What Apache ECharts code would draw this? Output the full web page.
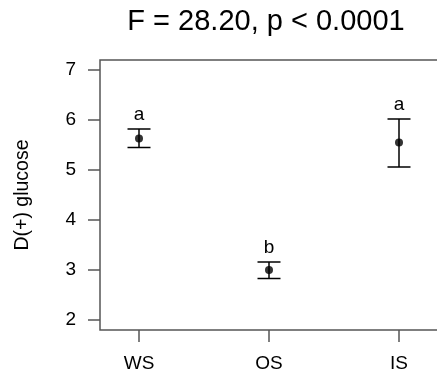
<!DOCTYPE html>
<html>
<head>
<meta charset="utf-8">
<script src="https://cdn.jsdelivr.net/npm/echarts@6/dist/echarts.min.js"></script>
<style>html,body{margin:0;padding:0;background:#fff}#c{width:437px;height:381px}</style>
</head>
<body>
<div id="c"></div>
<script>
const categories = ['WS', 'OS', 'IS'];
const means = [5.63, 3.00, 5.55];
const upper = [5.82, 3.16, 6.02];
const lower = [5.45, 2.83, 5.06];
const letters = ['a', 'b', 'a'];
const yTicks = [2, 3, 4, 5, 6, 7];
const xTicks = [1, 2, 3];
const titleText = 'F = 28.20, p < 0.0001';

const FONT = '"Liberation Sans", Arial, Helvetica, sans-serif';
const chart = echarts.init(document.getElementById('c'), null, {renderer: 'canvas'});

const pointData = means.map((m, i) => [xTicks[i], m]);
const errData = means.map((m, i) => [xTicks[i], lower[i], upper[i]]);

chart.setOption({
  animation: false,
  backgroundColor: '#fff',
  textStyle: {fontFamily: FONT},
  grid: {left: 100, top: 60, right: -1, bottom: 51, show: true, borderColor: '#555', borderWidth: 1.5, backgroundColor: 'transparent', outerBoundsMode: 'none'},
  graphic: [{
    type: 'text', x: 266, y: 22,
    style: {text: titleText, fontSize: 29, fontFamily: FONT, fill: '#000', textAlign: 'center', textVerticalAlign: 'middle'}
  }],
  xAxis: {
    type: 'value', min: 0.7, max: 3.3,
    axisLine: {show: false},
    splitLine: {show: false},
    axisTick: {show: true, customValues: xTicks, length: 12, inside: false, lineStyle: {color: '#555', width: 1.5}},
    axisLabel: {customValues: xTicks, formatter: v => categories[Math.round(v) - 1], fontSize: 19, color: '#000', margin: 24, fontFamily: FONT}
  },
  yAxis: {
    type: 'value', min: 1.8, max: 7.2,
    name: 'D(+) glucose', nameLocation: 'middle', nameRotate: 90, nameGap: 67,
    nameTextStyle: {fontSize: 19.5, color: '#000', fontFamily: FONT},
    axisLine: {show: false},
    splitLine: {show: false},
    axisTick: {show: true, customValues: yTicks, length: 12, inside: false, lineStyle: {color: '#555', width: 1.5}},
    axisLabel: {customValues: yTicks, fontSize: 19, color: '#000', margin: 24, fontFamily: FONT}
  },
  series: [
    {
      type: 'custom',
      data: errData,
      encode: {x: 0, y: [1, 2]},
      renderItem: function (params, api) {
        const x = api.value(0), lo = api.value(1), hi = api.value(2);
        const pHi = api.coord([x, hi]);
        const pLo = api.coord([x, lo]);
        const hw = 11.5;
        const st = {stroke: '#000', lineWidth: 1.5};
        return {
          type: 'group',
          children: [
            {type: 'line', shape: {x1: pHi[0], y1: pHi[1], x2: pLo[0], y2: pLo[1]}, style: st},
            {type: 'line', shape: {x1: pHi[0] - hw, y1: pHi[1], x2: pHi[0] + hw, y2: pHi[1]}, style: st},
            {type: 'line', shape: {x1: pLo[0] - hw, y1: pLo[1], x2: pLo[0] + hw, y2: pLo[1]}, style: st},
            {type: 'text', x: pHi[0], y: pHi[1] - 5,
             style: {text: letters[params.dataIndex], fontSize: 19, fontFamily: FONT, fill: '#000', textAlign: 'center', textVerticalAlign: 'bottom'}}
          ]
        };
      },
      z: 2
    },
    {
      type: 'scatter',
      data: pointData,
      symbol: 'circle',
      symbolSize: 8,
      itemStyle: {color: '#000'},
      z: 3
    }
  ]
});
</script>
</body>
</html>
